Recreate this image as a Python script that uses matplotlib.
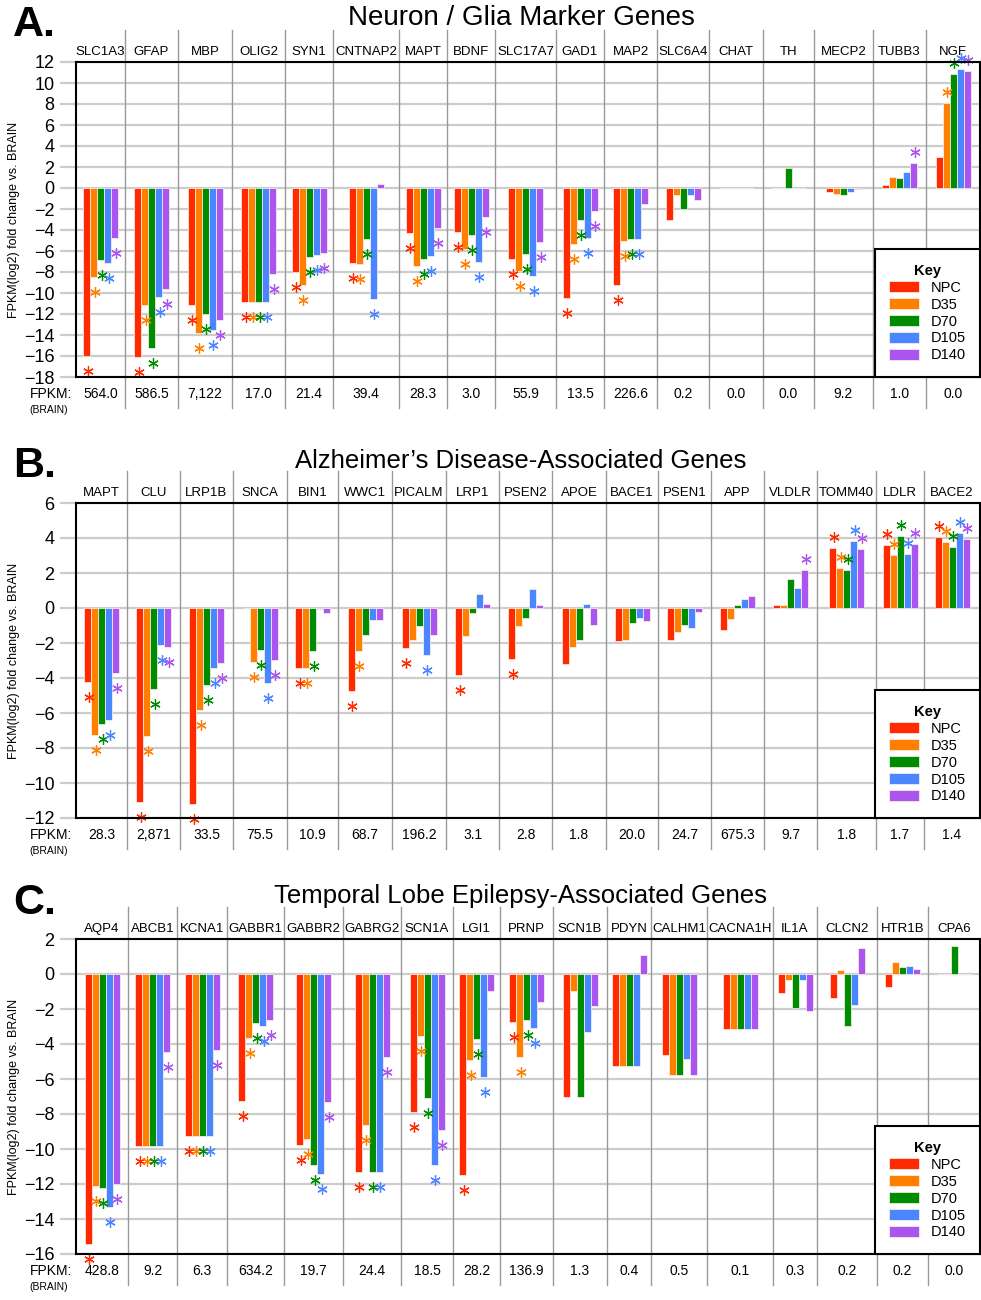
import matplotlib
matplotlib.use("Agg")
import matplotlib.pyplot as plt
from matplotlib import transforms

plt.rcParams['font.family'] = ['Liberation Sans', 'DejaVu Sans']

series = ["NPC", "D35", "D70", "D105", "D140"]
colors = ["#ff2a00", "#ff7f00", "#008c00", "#4a86ff", "#aa55ee"]

# ---- A. Neuron / Glia marker genes ----
genes_a = ["SLC1A3", "GFAP", "MBP", "OLIG2", "SYN1", "CNTNAP2", "MAPT", "BDNF", "SLC17A7",
           "GAD1", "MAP2", "SLC6A4", "CHAT", "TH", "MECP2", "TUBB3", "NGF"]
npc_a = [-16.0, -16.1, -11.1, -10.9, -8.0, -7.1, -4.3, -4.2, -6.75, -10.5, -9.2, -3.05, 0, 0, -0.35, 0.25, 3.0]
d35_a = [-8.5, -11.1, -13.8, -10.9, -9.2, -7.2, -7.4, -5.8, -7.9, -5.3, -5.0, -0.7, 0, 0, -0.6, 1.05, 8.1]
d70_a = [-6.85, -15.2, -12.0, -10.9, -6.6, -4.9, -6.75, -4.5, -6.3, -3.0, -4.9, -2.0, 0, 1.9, -0.65, 0.95, 10.9]
d105_a = [-7.1, -10.4, -13.5, -10.9, -6.4, -10.6, -6.5, -7.0, -8.4, -4.75, -4.9, -0.7, 0, 0, -0.35, 1.55, 11.3]
d140_a = [-4.8, -9.6, -12.6, -8.2, -6.2, 0.4, -3.85, -2.8, -5.1, -2.2, -1.5, -1.1, 0, 0, -0.05, 2.4, 11.1]
sig_a = ["11111", "11111", "11111", "11111", "11111", "11110", "11111", "11111", "11111",
         "11111", "11110", "00000", "00000", "00000", "00000", "00001", "01111"]
fpkm_a = ["564.0", "586.5", "7,122", "17.0", "21.4", "39.4", "28.3", "3.0", "55.9",
          "13.5", "226.6", "0.2", "0.0", "0.0", "9.2", "1.0", "0.0"]

# ---- B. Alzheimer's disease-associated genes ----
genes_b = ["MAPT", "CLU", "LRP1B", "SNCA", "BIN1", "WWC1", "PICALM", "LRP1", "PSEN2",
           "APOE", "BACE1", "PSEN1", "APP", "VLDLR", "TOMM40", "LDLR", "BACE2"]
npc_b = [-4.24, -11.08, -11.2, -0.02, -3.4, -4.75, -2.3, -3.8, -2.9, -3.2, -1.9, -1.83, -1.25, 0.19, 3.41, 3.6, 4.08]
d35_b = [-7.26, -7.3, -5.8, -3.1, -3.4, -2.45, -1.8, -1.6, -1.05, -2.2, -1.8, -1.35, -0.64, 0.19, 2.27, 3.02, 3.76]
d70_b = [-6.65, -4.6, -4.4, -2.4, -2.45, -1.55, -1.05, -0.3, -0.55, -1.8, -0.85, -0.96, 0.15, 1.64, 2.18, 4.1, 3.5]
d105_b = [-6.4, -2.1, -3.4, -4.3, -0.05, -0.7, -2.7, 0.8, 1.08, 0.23, -0.58, -1.12, 0.54, 1.14, 3.85, 3.06, 4.3]
d140_b = [-3.7, -2.2, -3.15, -2.95, -0.3, -0.67, -1.55, 0.25, 0.2, -0.98, -0.73, -0.2, 0.66, 2.16, 3.37, 3.66, 3.95]
sig_b = ["11111", "11111", "11111", "01111", "11100", "11000", "10010", "10000", "10000",
         "00000", "00000", "00000", "00000", "00001", "11111", "11111", "11111"]
fpkm_b = ["28.3", "2,871", "33.5", "75.5", "10.9", "68.7", "196.2", "3.1", "2.8",
          "1.8", "20.0", "24.7", "675.3", "9.7", "1.8", "1.7", "1.4"]

# ---- C. Temporal lobe epilepsy-associated genes ----
genes_c = ["AQP4", "ABCB1", "KCNA1", "GABBR1", "GABBR2", "GABRG2", "SCN1A", "LGI1", "PRNP",
           "SCN1B", "PDYN", "CALHM1", "CACNA1H", "IL1A", "CLCN2", "HTR1B", "CPA6"]
npc_c = [-15.4, -9.85, -9.28, -7.24, -9.77, -11.3, -7.9, -11.5, -2.72, -7.0, -5.24, -4.63, -3.14, -1.1, -1.37, -0.72, 0]
d35_c = [-12.1, -9.85, -9.28, -3.66, -9.43, -8.63, -3.52, -4.9, -4.76, -0.95, -5.24, -5.75, -3.14, -0.32, 0.25, 0.67, 0]
d70_c = [-12.2, -9.85, -9.28, -2.82, -10.9, -11.3, -7.1, -3.7, -2.6, -7.0, -5.24, -5.75, -3.14, -1.94, -2.95, 0.38, 1.62]
d105_c = [-13.3, -9.85, -9.28, -2.99, -11.4, -11.3, -10.9, -5.9, -3.1, -3.33, -5.24, -4.86, -3.14, -0.34, -1.75, 0.48, 0]
d140_c = [-12.0, -4.46, -4.32, -2.6, -7.3, -4.72, -8.9, -0.95, -1.62, -1.8, 1.1, -5.75, -3.14, -2.13, 1.49, 0.29, 0]
sig_c = ["11111", "11111", "11111", "11111", "11111", "11111", "11111", "11110", "11110",
         "00000", "00000", "00000", "00000", "00000", "00000", "00000", "00000"]
fpkm_c = ["428.8", "9.2", "6.3", "634.2", "19.7", "24.4", "18.5", "28.2", "136.9",
          "1.3", "0.4", "0.5", "0.1", "0.3", "0.2", "0.2", "0.0"]

# column edges in pixels (columns are sized to their labels in the original)
edges_a = [76, 125, 178, 232, 285, 333, 399, 447, 495, 556, 604, 657, 709, 763, 814, 873, 926, 980]
edges_b = [76, 127, 180, 233, 287, 338, 392, 446, 499, 552, 606, 658, 711, 764, 817, 876, 924, 980]
edges_c = [76, 128, 177, 227, 284, 343, 401, 453, 500, 553, 607, 651, 707, 773, 817, 877, 928, 980]

W, H = 981, 1300
fig = plt.figure(figsize=(W / 100, H / 100), dpi=100)


def fx(x):
    return x / W


def fy(y):
    return 1 - y / H


def panel(letter, letter_y, title, title_y, title_size, genes, values, sig, fpkm, edges, ylim, top, bottom):
    hpx = bottom - top
    ax = fig.add_axes([fx(76), fy(bottom), fx(980) - fx(76), hpx / H])
    ax.set_xlim(edges[0], edges[-1])
    ax.set_ylim(*ylim)
    per_px = (ylim[1] - ylim[0]) / hpx
    trans = transforms.blended_transform_factory(ax.transData, ax.transAxes)

    centers = [(edges[i] + edges[i + 1]) / 2 for i in range(len(genes))]
    bw = 7
    handles = []
    for k, (name, vals, col) in enumerate(zip(series, values, colors)):
        xs = [c + (k - 2) * bw for c in centers]
        h = ax.bar(xs, vals, width=bw, color=col, edgecolor='#fff4f0', linewidth=0.5,
                   label=name, zorder=3)
        handles.append(h)
        for i, (x, v) in enumerate(zip(xs, vals)):
            if sig[i][k] == '1':
                y = v + (11 * per_px if v > 0 else -15 * per_px)
                ax.plot(x + 1, y, marker=(6, 2, 0), color=col, ms=7.5, mew=0.9,
                        zorder=4, clip_on=False)

    # horizontal grid and long gray ticks
    ax.set_yticks(range(ylim[0], ylim[1] + 1, 2))
    ax.grid(axis='y', color='#cccccc', lw=1.6, zorder=0)
    ax.set_axisbelow(True)
    ax.tick_params(axis='y', length=11.5, width=1.6, color='#cccccc', labelsize=13, pad=4)
    ax.set_xticks([])
    for s in ax.spines.values():
        s.set_color('black')
        s.set_linewidth(1.5)
        s.set_zorder(5)

    # column separators running from label row through the FPKM row
    for e in edges[1:-1]:
        ax.plot([e, e], [1 + 32 / hpx, -31 / hpx], transform=trans, color='#999999',
                lw=1, clip_on=False, zorder=1)

    for c, g, f in zip(centers, genes, fpkm):
        ax.text(c, 1 + 10 / hpx, g, transform=trans, ha='center', va='center', fontsize=9.5)
        ax.text(c, -17 / hpx, f, transform=trans, ha='center', va='center', fontsize=10)

    fig.text(fx(72), fy(bottom + 17), "FPKM:", ha='right', va='center', fontsize=10)
    fig.text(fx(49), fy(bottom + 33), "(BRAIN)", ha='center', va='center', fontsize=7.5)
    fig.text(fx(14), fy((top + bottom) / 2), "FPKM(log2) fold change vs. BRAIN", rotation=90,
             ha='center', va='center', fontsize=9)

    fig.text(fx(521), fy(title_y), title, ha='center', va='center', fontsize=title_size)
    fig.text(fx(13), fy(letter_y), letter, ha='left', va='center', fontsize=31, weight='bold')

    leg = ax.legend(handles=handles, loc='lower right', bbox_to_anchor=(1, 0), borderaxespad=0,
                    frameon=True, fancybox=False, edgecolor='black', framealpha=1,
                    title='Key', title_fontproperties={'weight': 'bold', 'size': 10.5},
                    fontsize=10.5, handlelength=2.0, handleheight=0.8, labelspacing=0.2,
                    borderpad=1.0, handletextpad=0.8)
    leg.get_frame().set_linewidth(1.5)
    leg.set_zorder(6)
    leg._legend_box.align = "center"
    return ax


panel("A.", 25, "Neuron / Glia Marker Genes", 18, 20, genes_a,
      [npc_a, d35_a, d70_a, d105_a, d140_a], sig_a, fpkm_a, edges_a, (-18, 12), 62, 377)
panel("B.", 466, "Alzheimer\u2019s Disease-Associated Genes", 461, 18.5, genes_b,
      [npc_b, d35_b, d70_b, d105_b, d140_b], sig_b, fpkm_b, edges_b, (-12, 6), 503, 818)
panel("C.", 903, "Temporal Lobe Epilepsy-Associated Genes", 896, 18.5, genes_c,
      [npc_c, d35_c, d70_c, d105_c, d140_c], sig_c, fpkm_c, edges_c, (-16, 2), 939, 1254)

fig.savefig("out.png", dpi=100)
